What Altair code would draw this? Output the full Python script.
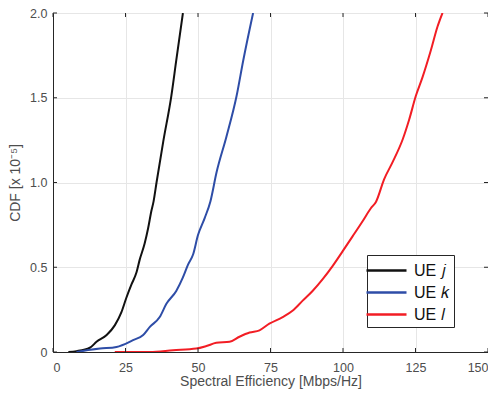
import altair as alt
import pandas as pd

# UE j (black)
j_x = [5.3, 8.1, 12.7, 15.0, 18.5, 21.3, 23.6, 25.3, 27.1, 28.8, 29.9, 31.6, 32.8, 33.9, 34.7, 35.7, 38.0, 40.8, 42.5, 44.8]
j_y = [0.0, 0.005, 0.025, 0.06, 0.10, 0.157, 0.235, 0.32, 0.40, 0.47, 0.545, 0.64, 0.73, 0.83, 0.89, 1.0, 1.24, 1.51, 1.72, 2.0]
# UE k (blue)
k_x = [8.1, 16.2, 21.9, 27.6, 31.1, 33.4, 36.8, 39.1, 42.5, 44.8, 46.6, 48.3, 50.0, 52.3, 54.3, 56.4, 59.8, 63.3, 65.6, 69.0]
k_y = [0.0, 0.02, 0.03, 0.07, 0.10, 0.148, 0.206, 0.284, 0.36, 0.44, 0.517, 0.575, 0.69, 0.79, 0.89, 1.06, 1.27, 1.51, 1.72, 2.0]
# UE l (red)
l_x = [21.3, 33.4, 41.4, 49.4, 52.9, 56.3, 60.9, 64.3, 67.8, 71.2, 74.6, 79.2, 82.7, 86.1, 89.5, 93.0, 96.4, 99.9, 103.3, 106.7,
       109.6, 111.4, 114.2, 117.1, 120.6, 122.8, 125.1, 127.4, 130.3, 132.6, 134.3]
l_y = [0.0, 0.0, 0.01, 0.02, 0.035, 0.054, 0.06, 0.09, 0.115, 0.128, 0.167, 0.206, 0.245, 0.303, 0.36, 0.43, 0.507, 0.595, 0.682, 0.77,
       0.848, 0.887, 1.02, 1.12, 1.255, 1.37, 1.51, 1.62, 1.78, 1.92, 2.0]

x_ticks = [0, 25, 50, 75, 100, 125, 150]
y_ticks = [0, 0.5, 1.0, 1.5, 2.0]

names = ["UE \U0001D457", "UE \U0001D458", "UE \U0001D459"]
colors = ["#111111", "#2E4DA7", "#F21D24"]

rows = []
for name, xs, ys in zip(names, [j_x, k_x, l_x], [j_y, k_y, l_y]):
    for i, (a, b) in enumerate(zip(xs, ys)):
        rows.append({"se": a, "cdf": b, "ue": name, "i": i})
df = pd.DataFrame(rows)

W, H = 435, 339
font = "Liberation Sans"
xscale = alt.Scale(domain=[0, 150], nice=False)
yscale = alt.Scale(domain=[0, 2], nice=False)

lines = alt.Chart(df).mark_line(strokeWidth=2, clip=True, interpolate="monotone").encode(
    x=alt.X("se:Q", scale=xscale,
            axis=alt.Axis(values=x_ticks, title="Spectral Efficiency [Mbps/Hz]",
                          labelFontSize=12.5, titleFontSize=14, labelColor="#4d4d4d", titleColor="#4d4d4d",
                          domainColor="#262626", ticks=False, gridColor="#e6e6e6",
                          labelPadding=9, titlePadding=1, labelFont=font, titleFont=font, titleFontWeight="normal")),
    y=alt.Y("cdf:Q", scale=yscale,
            axis=alt.Axis(values=y_ticks, title="CDF [x 10\u207B\u2075]",
                          labelExpr="datum.value == 0 ? '0' : format(datum.value, '.1f')",
                          labelFontSize=12.5, titleFontSize=14, labelColor="#4d4d4d", titleColor="#4d4d4d",
                          domainColor="#262626", ticks=False, gridColor="#e6e6e6",
                          labelPadding=6, titlePadding=7, labelFont=font, titleFont=font, titleFontWeight="normal")),
    color=alt.Color("ue:N", scale=alt.Scale(domain=names, range=colors),
                    legend=alt.Legend(title=None, orient="none", legendX=314, legendY=242,
                                      symbolType="M-2,0H2", symbolSize=400, symbolStrokeWidth=2.5,
                                      symbolOffset=4,
                                      labelFontSize=16, labelFont=font, labelColor="#111111",
                                      strokeColor="#262626", fillColor="white", padding=4,
                                      rowPadding=2, labelOffset=16)),
    order="i:Q",
)

xt = pd.DataFrame({"t": x_ticks})
yt = pd.DataFrame({"t": y_ticks})
tick_style = dict(color="#262626", strokeWidth=1)
xb = alt.Chart(xt).mark_rule(**tick_style).encode(x=alt.X("t:Q", scale=xscale), y=alt.value(H), y2=alt.value(H - 4))
xtp = alt.Chart(xt).mark_rule(**tick_style).encode(x=alt.X("t:Q", scale=xscale), y=alt.value(0), y2=alt.value(4))
yl = alt.Chart(yt).mark_rule(**tick_style).encode(y=alt.Y("t:Q", scale=yscale), x=alt.value(0), x2=alt.value(4))
yr = alt.Chart(yt).mark_rule(**tick_style).encode(y=alt.Y("t:Q", scale=yscale), x=alt.value(W), x2=alt.value(W - 4))

chart = alt.layer(lines, xb, xtp, yl, yr).properties(
    width=W, height=H,
    padding={"left": 45, "top": 5, "right": 0, "bottom": 39},
    autosize=alt.AutoSizeParams(type="none"),
).configure_view(stroke="#262626", strokeWidth=1)

chart.save("out.html", embed_options={"renderer": "svg", "actions": False})
